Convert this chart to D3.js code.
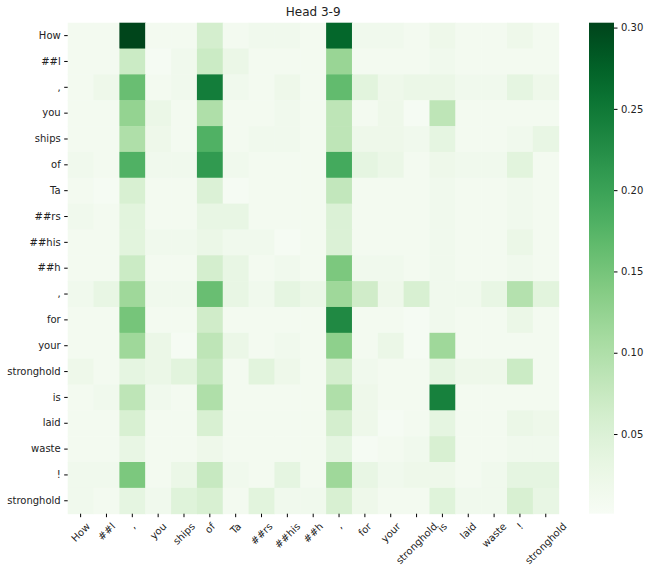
<!DOCTYPE html>
<html>
<head>
<meta charset="utf-8">
<script src="https://cdn.jsdelivr.net/npm/d3@7"></script>
<style>
  body { margin: 0; background: #fff; }
  text { font-family: "DejaVu Sans", sans-serif; }
</style>
</head>
<body>
<div id="chart"></div>
<script>
// Tokens (rows and columns share the same list)
const tokens = ["How", "##l", ",", "you", "ships", "of", "Ta", "##rs", "##his", "##h",
    ",", "for", "your", "stronghold", "is", "laid", "waste", "!", "stronghold"];

// Attention weights, one row per query token
const weights = [
    [0.010, 0.010, 0.302, 0.010, 0.010, 0.060, 0.010, 0.015, 0.015, 0.010, 0.270, 0.015, 0.015, 0.010, 0.020, 0.010, 0.010, 0.020, 0.010],
    [0.010, 0.010, 0.070, 0.005, 0.015, 0.070, 0.025, 0.010, 0.010, 0.010, 0.120, 0.010, 0.010, 0.010, 0.015, 0.010, 0.010, 0.010, 0.010],
    [0.010, 0.020, 0.160, 0.010, 0.015, 0.245, 0.015, 0.010, 0.020, 0.010, 0.165, 0.040, 0.020, 0.025, 0.025, 0.015, 0.015, 0.035, 0.020],
    [0.010, 0.010, 0.125, 0.025, 0.010, 0.100, 0.010, 0.010, 0.015, 0.010, 0.085, 0.010, 0.020, 0.005, 0.085, 0.010, 0.010, 0.010, 0.010],
    [0.010, 0.010, 0.100, 0.020, 0.010, 0.180, 0.010, 0.015, 0.015, 0.010, 0.085, 0.020, 0.020, 0.015, 0.035, 0.010, 0.010, 0.015, 0.030],
    [0.015, 0.010, 0.180, 0.015, 0.015, 0.210, 0.015, 0.010, 0.010, 0.010, 0.190, 0.035, 0.025, 0.010, 0.020, 0.015, 0.015, 0.040, 0.010],
    [0.010, 0.005, 0.055, 0.010, 0.010, 0.050, 0.005, 0.010, 0.010, 0.010, 0.080, 0.010, 0.010, 0.010, 0.015, 0.010, 0.010, 0.015, 0.010],
    [0.015, 0.010, 0.040, 0.010, 0.010, 0.030, 0.030, 0.010, 0.010, 0.010, 0.050, 0.010, 0.010, 0.010, 0.015, 0.010, 0.010, 0.015, 0.010],
    [0.010, 0.010, 0.040, 0.015, 0.015, 0.025, 0.015, 0.015, 0.005, 0.010, 0.050, 0.010, 0.010, 0.010, 0.015, 0.010, 0.010, 0.025, 0.010],
    [0.010, 0.010, 0.070, 0.010, 0.010, 0.060, 0.030, 0.010, 0.015, 0.010, 0.145, 0.015, 0.015, 0.010, 0.015, 0.010, 0.010, 0.015, 0.010],
    [0.015, 0.030, 0.115, 0.015, 0.015, 0.160, 0.030, 0.015, 0.035, 0.025, 0.115, 0.065, 0.020, 0.055, 0.015, 0.015, 0.030, 0.095, 0.040],
    [0.010, 0.010, 0.150, 0.010, 0.010, 0.065, 0.010, 0.010, 0.010, 0.010, 0.230, 0.010, 0.010, 0.005, 0.015, 0.010, 0.010, 0.025, 0.010],
    [0.010, 0.010, 0.115, 0.025, 0.005, 0.085, 0.025, 0.010, 0.015, 0.010, 0.130, 0.010, 0.025, 0.005, 0.115, 0.010, 0.010, 0.010, 0.010],
    [0.020, 0.010, 0.035, 0.025, 0.040, 0.075, 0.010, 0.040, 0.020, 0.010, 0.060, 0.015, 0.010, 0.010, 0.035, 0.020, 0.020, 0.070, 0.010],
    [0.010, 0.015, 0.085, 0.015, 0.010, 0.100, 0.010, 0.010, 0.010, 0.010, 0.100, 0.020, 0.010, 0.010, 0.240, 0.010, 0.010, 0.010, 0.010],
    [0.010, 0.010, 0.055, 0.010, 0.010, 0.055, 0.010, 0.010, 0.010, 0.010, 0.060, 0.020, 0.005, 0.010, 0.035, 0.010, 0.010, 0.025, 0.020],
    [0.010, 0.010, 0.030, 0.010, 0.010, 0.020, 0.010, 0.010, 0.010, 0.010, 0.035, 0.005, 0.010, 0.015, 0.055, 0.010, 0.010, 0.015, 0.015],
    [0.015, 0.015, 0.145, 0.010, 0.025, 0.075, 0.015, 0.010, 0.035, 0.010, 0.115, 0.030, 0.015, 0.020, 0.020, 0.010, 0.015, 0.035, 0.035],
    [0.015, 0.010, 0.035, 0.015, 0.045, 0.055, 0.010, 0.040, 0.015, 0.015, 0.055, 0.020, 0.010, 0.010, 0.045, 0.015, 0.015, 0.055, 0.030]
];

const colorTicks = [0.05, 0.10, 0.15, 0.20, 0.25, 0.30];
const vmin = 0.001, vmax = 0.303;
const title = "Head 3-9";

// Layout
const W = 664, H = 573;
const heat = { left: 67.7, top: 22.7, size: 491 };
const cbar = { left: 589, width: 25 };

const svg = d3.select("#chart").append("svg")
    .attr("width", W)
    .attr("height", H);

const idx = d3.range(tokens.length);
const x = d3.scaleBand().domain(idx).range([heat.left, heat.left + heat.size]);
const y = d3.scaleBand().domain(idx).range([heat.top, heat.top + heat.size]);
const color = d3.scaleSequential(d3.interpolateGreens).domain([vmin, vmax]);

// Cells
const cells = weights.flatMap((row, r) => row.map((v, c) => ({ r, c, v })));
svg.append("g").selectAll("rect")
    .data(cells)
    .join("rect")
    .attr("x", d => x(d.c))
    .attr("y", d => y(d.r))
    .attr("width", x.bandwidth() + 0.5)
    .attr("height", y.bandwidth() + 0.5)
    .attr("fill", d => color(d.v));

// Axes
const xAxis = svg.append("g")
    .attr("transform", `translate(0,${heat.top + heat.size})`)
    .call(d3.axisBottom(x).tickSize(3.5).tickPadding(3.5).tickFormat(i => tokens[i]));
xAxis.select(".domain").remove();

// rotated labels: bounding box centred under the tick, top at the pad
const s45 = Math.SQRT1_2, lineH = 11;
xAxis.selectAll("text")
    .attr("font-size", 10)
    .attr("fill", "#222")
    .attr("text-anchor", "middle")
    .attr("dy", "0.35em")
    .attr("x", 0)
    .attr("y", 0)
    .attr("transform", function () {
        const len = this.getComputedTextLength();
        const bh = (len + lineH) * s45;
        return `translate(0,${7 + bh / 2}) rotate(-45)`;
    });

const yAxis = svg.append("g")
    .attr("transform", `translate(${heat.left},0)`)
    .call(d3.axisLeft(y).tickSize(3.5).tickPadding(3.5).tickFormat(i => tokens[i]));
yAxis.select(".domain").remove();
yAxis.selectAll("text").attr("font-size", 10).attr("fill", "#222");

// Title
svg.append("text")
    .attr("x", heat.left + heat.size / 2)
    .attr("y", 16)
    .attr("text-anchor", "middle")
    .attr("font-size", 12)
    .attr("fill", "#222")
    .text(title);

// Colorbar
const defs = svg.append("defs");
const grad = defs.append("linearGradient")
    .attr("id", "cbar-grad")
    .attr("x1", 0).attr("y1", 1).attr("x2", 0).attr("y2", 0);
d3.range(0, 1.0001, 0.05).forEach(t => {
    grad.append("stop").attr("offset", t).attr("stop-color", d3.interpolateGreens(t));
});

svg.append("rect")
    .attr("x", cbar.left)
    .attr("y", heat.top)
    .attr("width", cbar.width)
    .attr("height", heat.size)
    .attr("fill", "url(#cbar-grad)");

const cScale = d3.scaleLinear().domain([vmin, vmax]).range([heat.top + heat.size, heat.top]);
const cAxis = svg.append("g")
    .attr("transform", `translate(${cbar.left + cbar.width},0)`)
    .call(d3.axisRight(cScale).tickValues(colorTicks).tickSize(3.5).tickPadding(3.5).tickFormat(d3.format(".2f")));
cAxis.select(".domain").remove();
cAxis.selectAll("text").attr("font-size", 10).attr("fill", "#222");
</script>
</body>
</html>
